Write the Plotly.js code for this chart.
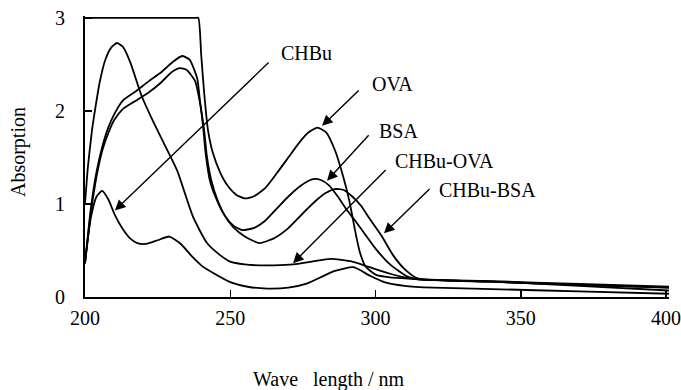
<!DOCTYPE html>
<html>
<head>
<meta charset="utf-8">
<script src="https://cdn.plot.ly/plotly-3.0.1.min.js"></script>
<style>html,body{margin:0;padding:0;background:#fff;}#chart{width:681px;height:390px;}</style>
</head>
<body>
<div id="chart"></div>
<script>
// Wavelength (nm) and absorption values
const ovaX = [200, 238, 239, 240, 241, 242.3, 244, 246.5, 249, 252, 255, 258, 262, 266, 270, 274, 277, 280, 283, 286, 289, 291, 292.3, 293.5, 294.7, 296.5, 300, 305, 310, 315, 340, 370, 401];
const ovaY = [3, 3, 3, 2.6, 2.2, 1.8, 1.55, 1.34, 1.2, 1.1, 1.06, 1.08, 1.17, 1.33, 1.5, 1.67, 1.77, 1.82, 1.77, 1.58, 1.28, 1.03, 0.82, 0.63, 0.47, 0.33, 0.24, 0.21, 0.2, 0.19, 0.17, 0.14, 0.11];

const bsaX = [200, 202, 204, 206, 208, 210, 213, 217, 222, 226, 230, 233.4, 236, 238.6, 239.6, 240.6, 241.5, 243, 245, 248, 251, 254, 258, 262, 266, 270, 274, 277, 279, 281, 284, 287, 290, 293, 296, 300, 305, 311, 315, 340, 370, 401];
const bsaY = [0.36, 0.95, 1.35, 1.62, 1.82, 1.96, 2.11, 2.2, 2.32, 2.41, 2.52, 2.59, 2.55, 2.35, 2.1, 1.85, 1.55, 1.25, 1.07, 0.88, 0.77, 0.72, 0.74, 0.82, 0.95, 1.08, 1.19, 1.25, 1.27, 1.26, 1.2, 1.08, 0.94, 0.82, 0.69, 0.52, 0.35, 0.22, 0.19, 0.165, 0.13, 0.1];

const chbuBsaX = [200, 202, 204, 206, 208, 210, 213, 217, 222, 226, 230, 232.7, 235, 237.9, 239.5, 241, 242, 243.5, 245.5, 248, 251, 255, 260, 265, 270, 275, 280, 283, 286, 289, 292, 295, 298, 302, 306, 310, 314.5, 340, 370, 401];
const chbuBsaY = [0.36, 0.9, 1.3, 1.58, 1.76, 1.9, 2.02, 2.1, 2.2, 2.3, 2.42, 2.46, 2.44, 2.32, 2.1, 1.79, 1.5, 1.25, 1.05, 0.88, 0.75, 0.65, 0.58, 0.63, 0.74, 0.9, 1.05, 1.12, 1.16, 1.15, 1.08, 0.98, 0.84, 0.66, 0.45, 0.3, 0.2, 0.165, 0.13, 0.1];

const chbuOvaX = [200, 201, 202.4, 203.4, 205, 207, 209, 211, 213, 215.5, 219.5, 223.4, 227.5, 231.7, 237.2, 242, 246.5, 250, 255, 260, 265, 271.7, 278, 284.5, 292, 298, 305, 310, 315, 340, 370, 401];
const chbuOvaY = [1.0, 1.4, 1.79, 2.0, 2.3, 2.55, 2.68, 2.73, 2.69, 2.53, 2.16, 1.89, 1.63, 1.36, 0.86, 0.58, 0.45, 0.38, 0.35, 0.34, 0.34, 0.35, 0.38, 0.41, 0.38, 0.32, 0.25, 0.21, 0.19, 0.165, 0.12, 0.07];

const chbuX = [200, 202, 204, 205.9, 208, 210.3, 213, 215.5, 218, 221, 225, 229, 233, 237, 240, 244, 250, 256, 262.7, 270, 276, 281, 286, 292.4, 298, 303, 310, 320, 340, 370, 401];
const chbuY = [0.37, 0.85, 1.08, 1.14, 1.05, 0.88, 0.73, 0.63, 0.58, 0.57, 0.61, 0.65, 0.57, 0.43, 0.34, 0.26, 0.16, 0.11, 0.09, 0.1, 0.14, 0.21, 0.28, 0.32, 0.23, 0.16, 0.12, 0.1, 0.085, 0.06, 0.035];

const seriesNames = ["OVA", "BSA", "CHBu-BSA", "CHBu-OVA", "CHBu"];
const xTicks = [200, 250, 300, 350, 400];
const yTicks = [0, 1, 2, 3];

const FONT = "Liberation Serif";
const xs = [ovaX, bsaX, chbuBsaX, chbuOvaX, chbuX];
const ys = [ovaY, bsaY, chbuBsaY, chbuOvaY, chbuY];

const traces = seriesNames.map((n, i) => ({
  type: "scatter", mode: "lines", name: n,
  x: xs[i], y: ys[i],
  line: {color: "#000", width: 1.8, shape: "spline", smoothing: 0.55},
  hoverinfo: "skip", showlegend: false
}));

// label annotations: [text, label x, label y, arrow tip x, tip y, tail x, tail y]
const labels = [
  ["CHBu", 266.9, 2.62, 210.3, 0.93, 263.7, 2.535],
  ["OVA", 298.1, 2.29, 281.6, 1.84, 294.7, 2.235],
  ["BSA", 300.5, 1.786, 283.3, 1.25, 298.1, 1.754],
  ["CHBu-OVA", 306, 1.465, 271.6, 0.364, 304, 1.38],
  ["CHBu-BSA", 321.2, 1.155, 302.9, 0.684, 319.1, 1.176]
];

const annotations = [];
labels.forEach(l => {
  annotations.push({x: l[1], y: l[2], xref: "x", yref: "y", text: l[0], showarrow: false,
    xanchor: "left", yanchor: "middle", font: {family: FONT, size: 20, color: "#000"}});
  annotations.push({x: l[3], y: l[4], xref: "x", yref: "y", ax: l[5], ay: l[6], axref: "x", ayref: "y",
    text: "", showarrow: true, arrowhead: 2, arrowsize: 1.5, arrowwidth: 1.4, arrowcolor: "#000"});
});
annotations.push({x: -0.1147, y: 0.516, xref: "paper", yref: "paper", text: "Absorption", textangle: -90,
  showarrow: false, xanchor: "center", yanchor: "middle", font: {family: FONT, size: 20, color: "#000"}});
annotations.push({x: 0.418, y: -0.295, xref: "paper", yref: "paper", text: "Wave\u00a0\u00a0\u00a0length / nm",
  showarrow: false, xanchor: "center", yanchor: "middle", font: {family: FONT, size: 20, color: "#000"}});

const layout = {
  width: 681, height: 390,
  margin: {l: 85, r: 12, t: 16, b: 93},
  paper_bgcolor: "#fff", plot_bgcolor: "#fff",
  showlegend: false,
  font: {family: FONT, size: 20, color: "#000"},
  xaxis: {range: [200, 401], tickvals: xTicks, ticktext: xTicks.map(String), ticks: "inside", ticklen: 7, tickwidth: 1.5,
    tickcolor: "#000", showline: true, linecolor: "#000", linewidth: 2, showgrid: false, zeroline: false,
    ticklabelstandoff: 2, ticklabeloverflow: "allow", tickfont: {family: FONT, size: 20, color: "#000"}},
  yaxis: {range: [0, 3.02], tickvals: yTicks, ticktext: yTicks.map(String), ticks: "inside", ticklen: 7, tickwidth: 1.5,
    tickcolor: "#000", showline: true, linecolor: "#000", linewidth: 2, showgrid: false, zeroline: false,
    ticklabelstandoff: 14, tickfont: {family: FONT, size: 20, color: "#000"}},
  annotations: annotations
};

Plotly.newPlot("chart", traces, layout, {staticPlot: true, displayModeBar: false});
</script>
</body>
</html>
